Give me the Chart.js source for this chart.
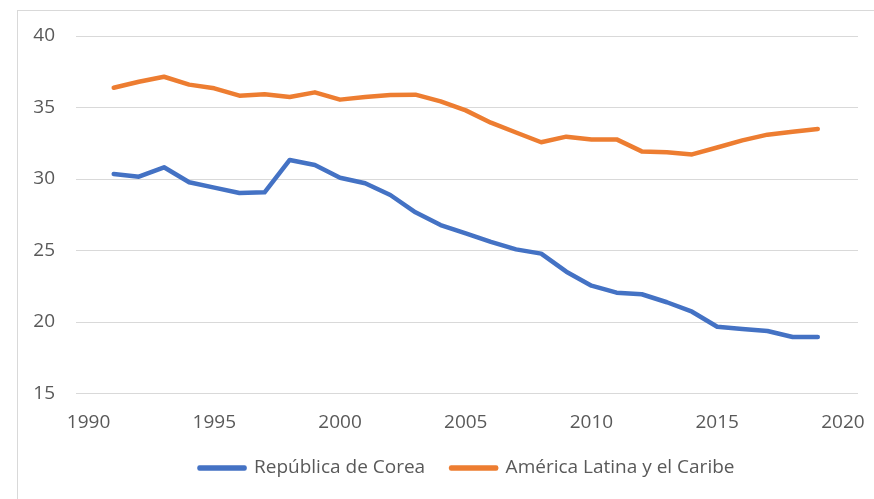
<!DOCTYPE html>
<html>
<head>
<meta charset="utf-8">
<script src="https://cdn.jsdelivr.net/npm/chart.js@4"></script>
<style>
  html, body { margin: 0; padding: 0; background: #fff; overflow: hidden; }
  #wrap { position: relative; width: 874px; height: 499px; }
  #frame {
    position: absolute; left: 17px; top: 10px; width: 900px; height: 520px;
    border-left: 1px solid #d9d9d9; border-top: 1px solid #d9d9d9;
  }
  #monthlyChart { position: absolute; left: 0; top: 0; }
</style>
</head>
<body>
<div id="wrap">
  <div id="frame"></div>
  <canvas id="monthlyChart" width="874" height="499"></canvas>
</div>
<script>
const years = [1991,1992,1993,1994,1995,1996,1997,1998,1999,2000,
  2001,2002,2003,2004,2005,2006,2007,2008,2009,2010,
  2011,2012,2013,2014,2015,2016,2017,2018,2019];

const corea = [30.35,30.16,30.82,29.77,29.4,29.02,29.07,31.33,30.98,30.09,
  29.7,28.88,27.67,26.78,26.2,25.6,25.08,24.78,23.52,22.54,
  22.05,21.94,21.38,20.72,19.67,19.51,19.37,18.95,18.95];

const latam = [36.38,36.8,37.15,36.6,36.34,35.83,35.92,35.73,36.06,35.55,
  35.73,35.87,35.9,35.43,34.8,33.94,33.25,32.57,32.96,32.77,
  32.77,31.93,31.87,31.72,32.2,32.7,33.1,33.3,33.5];

const xTicks = [1990,1995,2000,2005,2010,2015,2020];
const seriesNames = ["República de Corea", "América Latina y el Caribe"];

const ctx = document.getElementById("monthlyChart").getContext("2d");
const font = { family: "'Open Sans', sans-serif", size: 19 };

/* one line dataset */
const lineSet = (label, values, color) => ({
  label: label,
  data: years.map((yr, i) => ({ x: yr, y: values[i] })),
  borderColor: color,
  backgroundColor: color,
  borderWidth: 4.5,
  borderCapStyle: "round",
  borderJoinStyle: "round",
  pointRadius: 0,
  tension: 0,
  fill: false
});

const chart = new Chart(ctx, {
  type: "line",
  data: {
    datasets: [
      lineSet(seriesNames[0], corea, "#4472C4"),
      lineSet(seriesNames[1], latam, "#ED7D31")
    ]
  },
  options: {
    responsive: false,
    animation: false,
    layout: { padding: { top: 36, right: 16, bottom: 11.5, left: 0 } },
    plugins: {
      legend: {
        position: "bottom",
        fullSize: false,
        labels: {
          color: "#595959",
          font: font,
          boxWidth: 45,
          boxHeight: 1,
          padding: 26
        }
      },
      tooltip: { enabled: false }
    },
    scales: {
      x: {
        type: "linear",
        min: 1989.5,
        max: 2020.6,
        afterBuildTicks: (s) => { s.ticks = xTicks.map(v => ({ value: v })); },
        afterFit: (s) => {
          s.height = 39;
          s.paddingLeft = 0;
          s.paddingRight = 0;
        },
        grid: { display: false, drawTicks: false },
        border: { display: false },
        ticks: {
          color: "#595959",
          font: font,
          padding: 18,
          maxRotation: 0,
          callback: (v) => String(v)
        }
      },
      y: {
        min: 15,
        max: 40,
        afterFit: (s) => { s.width = 76; },
        grid: { color: "#d9d9d9", lineWidth: 1, drawTicks: false },
        border: { display: false },
        ticks: {
          stepSize: 5,
          color: "#595959",
          font: font,
          padding: 21
        }
      }
    }
  }
});
</script>
</body>
</html>
